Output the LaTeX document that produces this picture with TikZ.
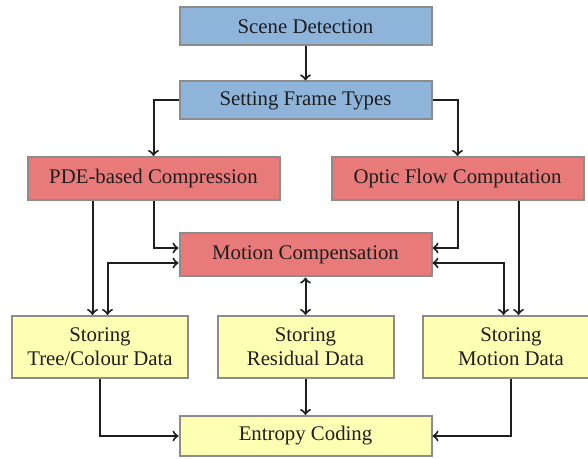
\documentclass[tikz,border=0pt]{standalone}
\usepackage{fontspec}
\setmainfont{Liberation Serif}
\usepackage{tikz}
\definecolor{FDBlue}{HTML}{8EB4DA}
\definecolor{FDRed}{HTML}{E87A7A}
\definecolor{FDYellow}{HTML}{FFFFB3}
\definecolor{FDFrame}{HTML}{8C8C8C}
\definecolor{FDInk}{HTML}{1E1E1E}

\begin{document}
\begin{tikzpicture}[x=0.5pt,y=-0.5pt,
  box/.style={draw=FDFrame,line width=1pt,text=FDInk,align=center,inner sep=0pt,
    font=\fontsize{10.4}{12}\selectfont,minimum width=126pt,minimum height=19pt},
  bluebox/.style={box,fill=FDBlue},
  redbox/.style={box,fill=FDRed,minimum height=21.5pt},
  storebox/.style={box,fill=FDYellow,minimum width=88pt,minimum height=31pt},
  flow/.style={draw=FDInk,line width=1pt,->}]
\path[use as bounding box] (0,0) rectangle (588,459);
% frame types
\node[bluebox] (scene) at (305.5,26.5) {Scene Detection};
\node[bluebox] (setting) at (305.5,100.5) {Setting Frame Types};
% compression stages
\node[redbox] (pde) at (153.5,178.5) {PDE-based Compression};
\node[redbox] (optic) at (457.5,178.5) {Optic Flow Computation};
\node[redbox] (compensation) at (305.5,255) {Motion Compensation};
% storage
\node[storebox] (tree) at (100,347) {Storing\\Tree/Colour Data};
\node[storebox] (residual) at (305.5,347) {Storing\\Residual Data};
\node[storebox] (motiondata) at (511,347) {Storing\\Motion Data};
\node[box,fill=FDYellow,minimum height=20pt] (entropy) at (305.5,436) {Entropy Coding};
\coordinate (treeL) at ([xshift=-3.75pt]tree.north);
\coordinate (treeR) at ([xshift=3.75pt]tree.north);
\coordinate (motL) at ([xshift=-3.75pt]motiondata.north);
\coordinate (motR) at ([xshift=3.75pt]motiondata.north);
% connectors
\draw[flow] (scene) -- (setting);
\draw[flow] (setting.west) -| (pde.north);
\draw[flow] (setting.east) -| (optic.north);
\draw[flow] (pde.south) |- ([yshift=3.5pt]compensation.west);
\draw[flow] (optic.south) |- ([yshift=3.5pt]compensation.east);
\draw[flow] (pde.south -| treeL) -- (treeL);
\draw[flow] (optic.south -| motR) -- (motR);
\draw[flow,<->] ([yshift=-4pt]compensation.west) -| (treeR);
\draw[flow,<->] ([yshift=-4pt]compensation.east) -| (motL);
\draw[flow,<->] (compensation) -- (residual);
\draw[flow] (tree.south) |- (entropy.west);
\draw[flow] (residual) -- (entropy);
\draw[flow] (motiondata.south) |- (entropy.east);
\end{tikzpicture}
\end{document}
